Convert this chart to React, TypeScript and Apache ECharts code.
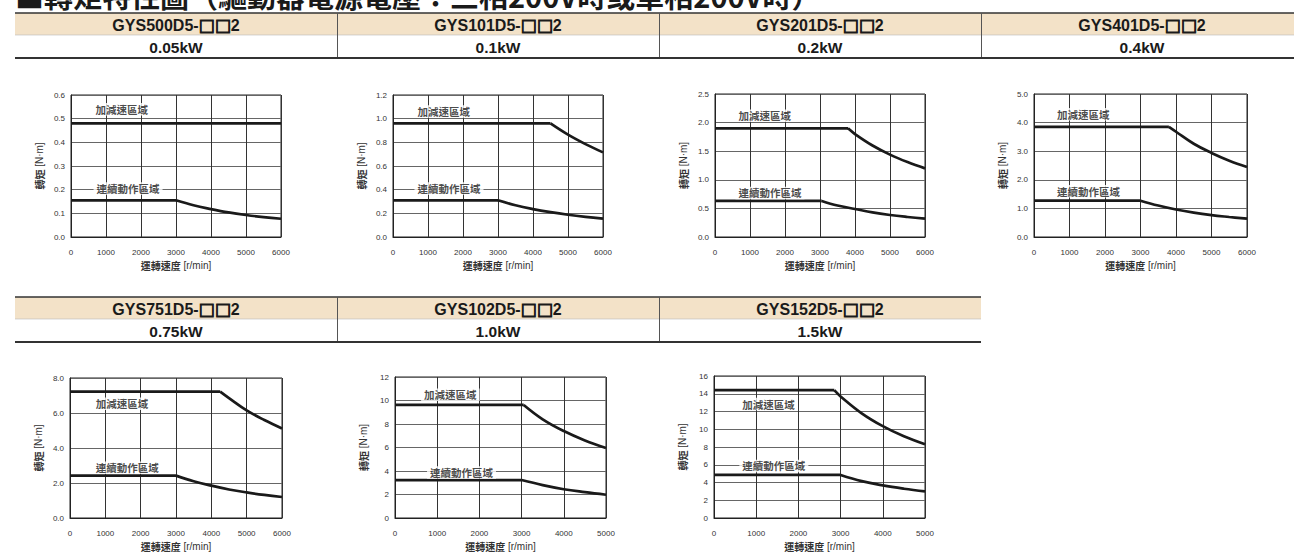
import React, { useEffect, useRef } from "react";
import * as echarts from "echarts";

// ---------- data ----------
const models = ["GYS500D5-", "GYS101D5-", "GYS201D5-", "GYS401D5-", "GYS751D5-", "GYS102D5-", "GYS152D5-"];
const modelSuffix = "□□";
const modelEnd = "2";
const powers = ["0.05kW", "0.1kW", "0.2kW", "0.4kW", "0.75kW", "1.0kW", "1.5kW"];
const speedMax = [6000, 6000, 6000, 6000, 6000, 5000, 5000];
const speedStep = 1000;
const torqueMax = [0.6, 1.2, 2.5, 5.0, 8.0, 12, 16];
const torqueStep = [0.1, 0.2, 0.5, 1.0, 2.0, 2, 2];
const torqueDecimals = [1, 1, 1, 1, 1, 0, 0];

const titleText = "■轉矩特性圖（驅動器電源電壓：三相200V時或單相200V時）";
const accelName = "加減速區域";
const contName = "連續動作區域";
const xName = "運轉速度";
const xUnit = "[r/min]";
const yName = "轉矩";
const yUnit = "[N·m]";

// acceleration / deceleration region (speed r/min, torque N·m)
const accel1 = [[0, 0.48], [6000, 0.48]];
const accel2 = [[0, 0.96], [4500, 0.96], [5000, 0.865], [5500, 0.785], [6000, 0.715]];
const accel3 = [[0, 1.9], [3800, 1.9], [4000, 1.8], [4500, 1.6], [5000, 1.44], [5500, 1.31], [6000, 1.2]];
const accel4 = [[0, 3.85], [3800, 3.85], [4000, 3.68], [4500, 3.26], [5000, 2.94], [5500, 2.67], [6000, 2.45]];
const accel5 = [[0, 7.22], [4250, 7.22], [4500, 6.85], [5000, 6.15], [5500, 5.6], [6000, 5.12]];
const accel6 = [[0, 9.62], [3050, 9.62], [3500, 8.4], [4000, 7.4], [4500, 6.6], [5000, 5.95]];
const accel7 = [[0, 14.4], [2850, 14.4], [3000, 13.7], [3500, 11.8], [4000, 10.35], [4500, 9.2], [5000, 8.3]];

// continuous operation region
const cont1 = [[0, 0.155], [3000, 0.155], [3500, 0.134], [4000, 0.118], [4500, 0.104], [5000, 0.093], [5500, 0.084], [6000, 0.077]];
const cont2 = [[0, 0.31], [3000, 0.31], [3500, 0.268], [4000, 0.236], [4500, 0.21], [5000, 0.188], [5500, 0.17], [6000, 0.155]];
const cont3 = [[0, 0.63], [3050, 0.63], [3500, 0.55], [4000, 0.49], [4500, 0.43], [5000, 0.385], [5500, 0.35], [6000, 0.32]];
const cont4 = [[0, 1.27], [3000, 1.27], [3500, 1.1], [4000, 0.96], [4500, 0.85], [5000, 0.765], [5500, 0.7], [6000, 0.64]];
const cont5 = [[0, 2.42], [3000, 2.42], [3500, 2.1], [4000, 1.85], [4500, 1.63], [5000, 1.46], [5500, 1.32], [6000, 1.2]];
const cont6 = [[0, 3.23], [3000, 3.23], [3500, 2.8], [4000, 2.45], [4500, 2.2], [5000, 1.98]];
const cont7 = [[0, 4.85], [3000, 4.85], [3500, 4.15], [4000, 3.67], [4500, 3.3], [5000, 3.0]];

const accelCurves = [accel1, accel2, accel3, accel4, accel5, accel6, accel7];
const contCurves = [cont1, cont2, cont3, cont4, cont5, cont6, cont7];

// where the region names sit (speed, torque)
const accelLabelAt = [[700, 0.54], [700, 1.06], [670, 2.12], [650, 4.29], [730, 6.53], [690, 10.5], [672, 12.84]];
const contLabelAt = [[730, 0.205], [700, 0.41], [670, 0.77], [650, 1.6], [730, 2.87], [830, 3.87], [672, 5.86]];

// ---------- layout ----------
const gridBoxes = [
  { left: 71, top: 95, width: 210, height: 142 },
  { left: 393, top: 95, width: 210, height: 142 },
  { left: 715, top: 94, width: 210, height: 143 },
  { left: 1034, top: 94, width: 213, height: 143 },
  { left: 70, top: 378, width: 212, height: 143 },
  { left: 395, top: 377, width: 211, height: 143 },
  { left: 714, top: 376, width: 211, height: 143 },
];

const LATIN = "'Liberation Sans', Arial, sans-serif";
const CJK = "'Noto Sans CJK TC', 'Noto Sans CJK SC', sans-serif";
const SQ = "'DejaVu Sans', sans-serif";
const INK = "#1a1a1a";
const BEIGE = "#f3e2c8";

function tableRow(top: number, xs: number[], right: number, idx: number[]): any[] {
  const h1 = 22;
  const h2 = 22;
  const colW = 322;
  const els: any[] = [];
  els.push({ type: "rect", shape: { x: xs[0], y: top, width: right - xs[0], height: h1 }, style: { fill: BEIGE }, silent: true });
  els.push({ type: "line", shape: { x1: xs[0], y1: top, x2: right, y2: top }, style: { stroke: "#333", lineWidth: 1.5 }, silent: true });
  els.push({ type: "line", shape: { x1: xs[0], y1: top + h1, x2: right, y2: top + h1 }, style: { stroke: "#bbb", lineWidth: 0.6 }, silent: true });
  els.push({ type: "line", shape: { x1: xs[0], y1: top + h1 + h2 + 1, x2: right, y2: top + h1 + h2 + 1 }, style: { stroke: "#333", lineWidth: 2.2 }, silent: true });
  for (let k = 1; k < xs.length; k++) {
    els.push({ type: "line", shape: { x1: xs[k] + 0.5, y1: top, x2: xs[k] + 0.5, y2: top + h1 + h2 }, style: { stroke: "#555", lineWidth: 1 }, silent: true });
  }
  idx.forEach((i, k) => {
    const cx = xs[k] + colW / 2;
    els.push({
      type: "text",
      x: cx,
      y: top + h1 / 2 + 1,
      silent: true,
      style: {
        text: `{m|${models[i]}}{s|${modelSuffix}}{m|${modelEnd}}`,
        align: "center",
        verticalAlign: "middle",
        rich: {
          m: { fontFamily: LATIN, fontWeight: "bold", fontSize: 16, fill: INK },
          s: { fontFamily: SQ, fontWeight: "bold", fontSize: 17, fill: INK, stroke: INK, lineWidth: 0.9 },
        },
      },
    });
    els.push({
      type: "text",
      x: cx,
      y: top + h1 + h2 / 2 + 1,
      silent: true,
      style: {
        text: powers[i],
        align: "center",
        verticalAlign: "middle",
        fontFamily: LATIN,
        fontWeight: "bold",
        fontSize: 15.5,
        fill: INK,
      },
    });
  });
  return els;
}

function buildOption(): any {
  const grid: any[] = [];
  const xAxis: any[] = [];
  const yAxis: any[] = [];
  const series: any[] = [];

  for (let i = 0; i < 7; i++) {
    grid.push({ ...gridBoxes[i], show: true, borderColor: "#222", borderWidth: 1, backgroundColor: "transparent", containLabel: false });
    xAxis.push({
      type: "value",
      gridIndex: i,
      min: 0,
      max: speedMax[i],
      interval: speedStep,
      axisLine: { show: true, lineStyle: { color: "#222", width: 1 } },
      axisTick: { show: false },
      splitLine: { show: true, lineStyle: { color: "#333", width: 1 } },
      axisLabel: { fontSize: 8, color: "#333", margin: 11, fontFamily: LATIN, formatter: (v: number) => String(Math.round(v)) },
      name: `{c|${xName}} {n|${xUnit}}`,
      nameLocation: "middle",
      nameGap: 23,
      nameTextStyle: {
        fontSize: 10,
        color: "#333",
        fontFamily: LATIN,
        rich: {
          c: { fontFamily: CJK, fontWeight: "bold", fontSize: 10, color: "#333" },
          n: { fontFamily: LATIN, fontSize: 10, color: "#333" },
        },
      },
    });
    const dec = torqueDecimals[i];
    yAxis.push({
      type: "value",
      gridIndex: i,
      min: 0,
      max: torqueMax[i],
      interval: torqueStep[i],
      axisLine: { show: true, lineStyle: { color: "#222", width: 1 } },
      axisTick: { show: false },
      splitLine: { show: true, lineStyle: { color: "#666", width: 1 } },
      axisLabel: { fontSize: 8, color: "#333", margin: 6, fontFamily: LATIN, formatter: (v: number) => v.toFixed(dec) },
      name: `{c|${yName}} {n|${yUnit}}`,
      nameLocation: "middle",
      nameRotate: 90,
      nameGap: 27,
      nameTextStyle: {
        fontSize: 10,
        color: "#333",
        fontFamily: LATIN,
        rich: {
          c: { fontFamily: CJK, fontWeight: "bold", fontSize: 10, color: "#333" },
          n: { fontFamily: LATIN, fontSize: 10, color: "#333" },
        },
      },
    });

    const curves = [accelCurves[i], contCurves[i]];
    curves.forEach((c) => {
      series.push({
        type: "line",
        xAxisIndex: i,
        yAxisIndex: i,
        data: c.slice(0, 2),
        symbol: "none",
        silent: true,
        lineStyle: { color: INK, width: 2.7 },
        z: 3,
      });
      if (c.length > 2) {
        series.push({
          type: "line",
          xAxisIndex: i,
          yAxisIndex: i,
          data: c.slice(1),
          symbol: "none",
          silent: true,
          smooth: 0.4,
          lineStyle: { color: INK, width: 2.7 },
          z: 3,
        });
      }
    });

    series.push({
      type: "scatter",
      xAxisIndex: i,
      yAxisIndex: i,
      symbolSize: 0,
      silent: true,
      z: 5,
      data: [
        { name: accelName, value: accelLabelAt[i] },
        { name: contName, value: contLabelAt[i] },
      ],
      label: {
        show: true,
        formatter: "{b}",
        position: "right",
        distance: 0,
        offset: [-3, 0],
        backgroundColor: "#fff",
        padding: [1, 3],
        fontSize: 10.5,
        fontWeight: "bold",
        fontFamily: CJK,
        color: INK,
      },
    });
  }

  const graphic: any[] = [
    {
      type: "text",
      x: 15,
      y: -5,
      silent: true,
      style: { text: titleText, fontFamily: CJK, fontWeight: "bold", fontSize: 29, fill: INK, verticalAlign: "middle" },
    },
    ...tableRow(13, [15, 337, 659, 981], 1294, [0, 1, 2, 3]),
    ...tableRow(297, [15, 337, 659], 981, [4, 5, 6]),
  ];

  return { animation: false, backgroundColor: "#fff", grid, xAxis, yAxis, series, graphic };
}

export default function App() {
  const ref = useRef<HTMLDivElement>(null);
  useEffect(() => {
    if (!ref.current) return;
    const chart = echarts.init(ref.current, undefined, { renderer: "svg" });
    chart.setOption(buildOption());
    return () => chart.dispose();
  }, []);
  return <div ref={ref} style={{ position: "absolute", left: 0, top: 0, width: 1294, height: 552, background: "#fff" }} />;
}
